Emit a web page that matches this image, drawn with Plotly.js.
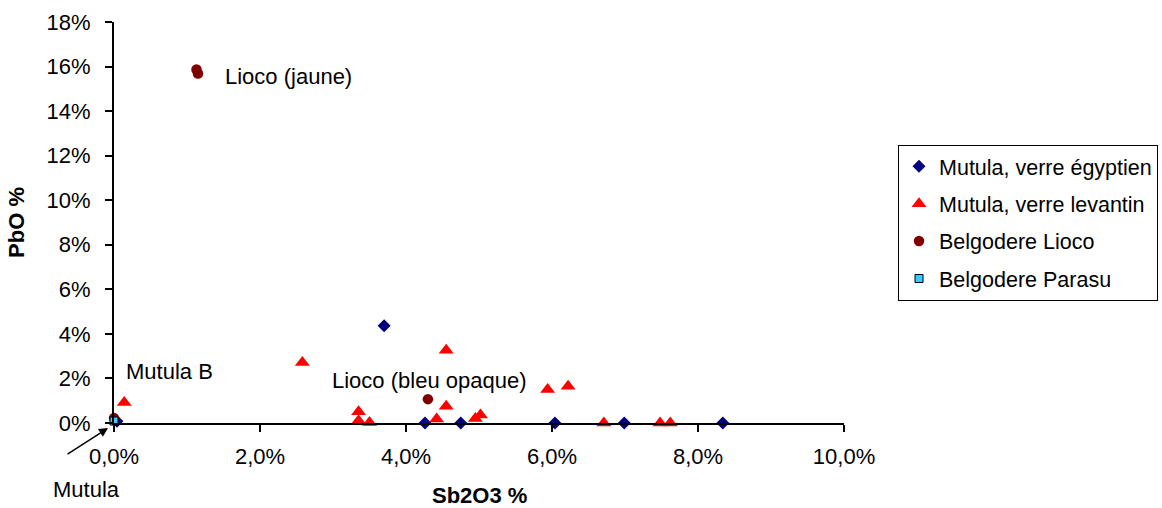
<!DOCTYPE html>
<html>
<head>
<meta charset="utf-8">
<script src="https://cdn.plot.ly/plotly-3.0.1.min.js"></script>
<style>html,body{margin:0;padding:0;background:#fff;}#chart{width:1162px;height:508px;}</style>
</head>
<body>
<div id="chart"></div>
<script>
// Values in percent
const seriesNames = ["Mutula, verre égyptien", "Mutula, verre levantin", "Belgodere Lioco", "Belgodere Parasu"];

const egyptSb = [0.04, 3.70, 4.26, 4.75, 6.04, 6.99, 8.34];
const egyptPb = [0.08, 4.36, 0, 0, 0, 0, 0];

const levantSb = [0.14, 2.58, 3.35, 3.35, 3.50, 4.42, 4.55, 4.55, 4.95, 5.02, 5.94, 6.22, 6.71, 7.48, 7.62];
const levantPb = [0.92, 2.72, 0.50, 0.10, 0.02, 0.18, 0.75, 3.27, 0.20, 0.36, 1.50, 1.65, 0, 0, 0];

const liocoSb = [1.13, 1.15, 4.30, 0.0];
const liocoPb = [15.87, 15.69, 1.07, 0.22];

const parasuSb = [0.0];
const parasuPb = [0.09];

const xTicks = [0, 2, 4, 6, 8, 10];
const xTickText = ["0,0%", "2,0%", "4,0%", "6,0%", "8,0%", "10,0%"];
const yTicks = [0, 2, 4, 6, 8, 10, 12, 14, 16, 18];
const yTickText = ["0%", "2%", "4%", "6%", "8%", "10%", "12%", "14%", "16%", "18%"];

const xTitle = "Sb2O3 %";
const yTitle = "PbO %";

const dataLabels = [
  {text: "Lioco (jaune)", x: 1.49, y: 15.55},
  {text: "Mutula B", x: 0.137, y: 2.29},
  {text: "Lioco (bleu opaque)", x: 2.96, y: 1.89}
];

const FONT = "Liberation Sans, Arial, sans-serif";
const FS = 22;
const LFS = 21.5;

const traces = [
  {x: egyptSb, y: egyptPb, name: seriesNames[0], legendgroup: "a", mode: "markers", type: "scatter", cliponaxis: false,
   marker: {symbol: "diamond", size: 10, color: "#000080"}},
  {x: levantSb, y: levantPb, name: seriesNames[1], legendgroup: "b", mode: "markers", type: "scatter", cliponaxis: false,
   marker: {symbol: "triangle-up", size: 13, color: "#FF0000"}},
  {x: liocoSb, y: liocoPb, name: seriesNames[2], legendgroup: "c", mode: "markers", type: "scatter", cliponaxis: false,
   marker: {symbol: "circle", size: 10.5, color: "#800000"}},
  {x: parasuSb, y: parasuPb, name: seriesNames[3], legendgroup: "d", mode: "markers", type: "scatter", cliponaxis: false,
   marker: {symbol: "square", size: 8, color: "#33CCFF", line: {color: "#000", width: 1}}}
];

const annotations = dataLabels.map(l => ({
  x: l.x, y: l.y, xref: "x", yref: "y", text: l.text, showarrow: false,
  xanchor: "left", yanchor: "middle", font: {family: FONT, size: FS, color: "#000"}
}));
// "Mutula" callout below the origin (paper coordinates, outside axis range)
annotations.push({
  x: -0.0863, y: -0.165, xref: "paper", yref: "paper", text: "Mutula", showarrow: false,
  xanchor: "left", yanchor: "middle", font: {family: FONT, size: FS, color: "#000"}
});
annotations.push({
  x: -0.0082, y: -0.0125, xref: "paper", yref: "paper", text: "", showarrow: true,
  ax: -42, ay: 27, arrowhead: 2, arrowsize: 1.2, arrowwidth: 1.5, arrowcolor: "#000"
});
// x-axis title placed explicitly below the tick labels
annotations.push({
  x: 0.5, y: -0.18, xref: "paper", yref: "paper", text: "<b>" + xTitle + "</b>", showarrow: false,
  xanchor: "center", yanchor: "middle", font: {family: FONT, size: FS, color: "#000"}
});

const layout = {
  width: 1162, height: 508,
  margin: {l: 114, r: 318, t: 22, b: 85, pad: 0, autoexpand: false},
  paper_bgcolor: "#fff", plot_bgcolor: "#fff",
  font: {family: FONT, size: FS, color: "#000"},
  showlegend: true,
  legend: {
    x: 1.074, y: 0.694, xanchor: "left", yanchor: "top",
    bordercolor: "#000", borderwidth: 1, bgcolor: "#fff",
    font: {family: FONT, size: LFS, color: "#000"},
    tracegroupgap: 6.5, itemwidth: 30
  },
  xaxis: {
    range: [0, 10], tickmode: "array", tickvals: xTicks, ticktext: xTickText,
    showgrid: false, zeroline: false, showline: true, linecolor: "#000", linewidth: 2,
    ticks: "outside", ticklen: 7, tickwidth: 2, tickcolor: "#000", ticklabelstandoff: 6
  },
  yaxis: {
    range: [0, 18], tickmode: "array", tickvals: yTicks, ticktext: yTickText,
    showgrid: false, zeroline: false, showline: true, linecolor: "#000", linewidth: 2,
    ticks: "outside", ticklen: 7, tickwidth: 2, tickcolor: "#000", ticklabelstandoff: 10,
    title: {text: "<b>" + yTitle + "</b>", font: {family: FONT, size: FS}, standoff: 16}
  },
  annotations: annotations
};

Plotly.newPlot("chart", traces, layout, {displayModeBar: false, staticPlot: true});
</script>
</body>
</html>
